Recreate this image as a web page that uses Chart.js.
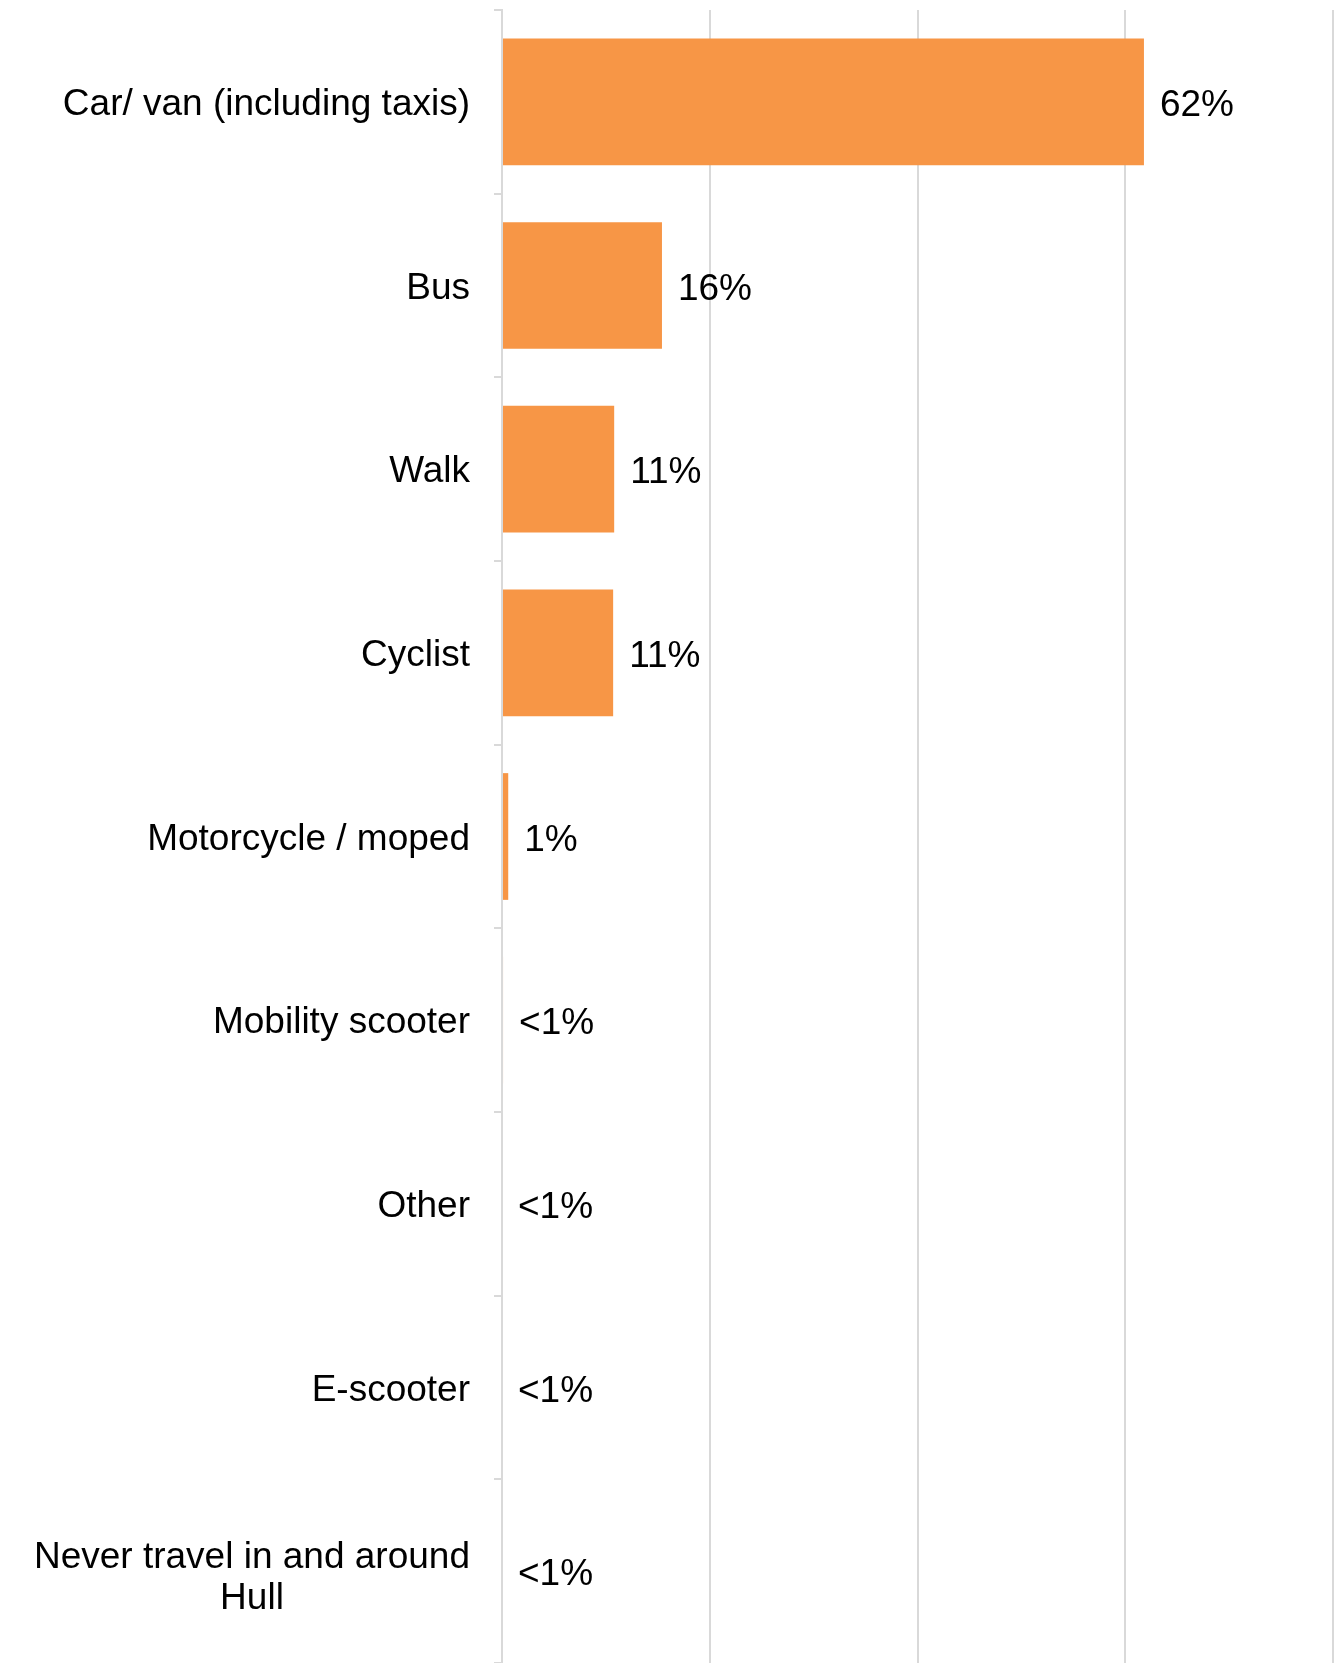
<!DOCTYPE html>
<html>
<head>
<meta charset="utf-8">
<script src="https://cdn.jsdelivr.net/npm/chart.js@4/dist/chart.umd.min.js"></script>
<style>
  html, body { margin: 0; padding: 0; background: #fff; }
  #wrap { position: relative; width: 1341px; height: 1663px; }
</style>
</head>
<body>
<div id="wrap"><canvas id="c"></canvas></div>
<script>
// categories (multi-line labels as arrays)
const modes = [
    'Car/ van (including taxis)',
    'Bus',
    'Walk',
    'Cyclist',
    'Motorcycle / moped',
    'Mobility scooter',
    'Other',
    'E-scooter',
    ['Never travel in and around', 'Hull']
];
// bar lengths (%)
const shares = [61.8, 15.4, 10.8, 10.7, 0.6, 0.1, 0, 0, 0];
// printed value labels
const shareLabels = ['62%', '16%', '11%', '11%', '1%', '<1%', '<1%', '<1%', '<1%'];
// x axis gridlines
const xTicks = [0, 20, 40, 60, 80];

const FONT = '"Liberation Sans", Arial, sans-serif';
const gridGrey = '#d9d9d9';

// draws category names left of the axis; multi-line ones centred on themselves
const categoryLabels = {
    id: 'categoryLabels',
    afterDraw(chart) {
        const ctx = chart.ctx;
        const y = chart.scales.y;
        const right = chart.chartArea.left - 32;
        ctx.save();
        ctx.font = '37px ' + FONT;
        ctx.fillStyle = '#000';
        ctx.textBaseline = 'middle';
        ctx.textAlign = 'center';
        modes.forEach((lab, i) => {
            const cy = y.getPixelForValue(i) + 3;
            const lines = Array.isArray(lab) ? lab : [lab];
            const maxW = Math.max(...lines.map(l => ctx.measureText(l).width));
            const lh = 41;
            const y0 = cy - (lines.length - 1) * lh / 2 + (lines.length > 1 ? 4 : 0);
            lines.forEach((l, k) => {
                ctx.fillText(l, right - maxW / 2, y0 + k * lh);
            });
        });
        ctx.restore();
    }
};

// value labels at the bar ends
const valueLabels = {
    id: 'valueLabels',
    afterDatasetsDraw(chart) {
        const ctx = chart.ctx;
        const meta = chart.getDatasetMeta(0);
        ctx.save();
        ctx.font = '37px ' + FONT;
        ctx.fillStyle = '#000';
        ctx.textAlign = 'left';
        ctx.textBaseline = 'middle';
        meta.data.forEach((bar, i) => {
            ctx.fillText(shareLabels[i], bar.x + 16, bar.y + 4);
        });
        ctx.restore();
    }
};

new Chart(document.getElementById('c'), {
    type: 'bar',
    data: {
        labels: modes,
        datasets: [{
            data: shares,
            backgroundColor: '#F79646',
            borderWidth: 0,
            categoryPercentage: 1,
            barPercentage: 0.69
        }]
    },
    options: {
        indexAxis: 'y',
        responsive: true,
        maintainAspectRatio: false,
        animation: false,
        devicePixelRatio: 1,
        layout: { padding: { top: 10, right: 8, bottom: 0, left: 0 } },
        plugins: {
            legend: { display: false },
            tooltip: { enabled: false }
        },
        scales: {
            x: {
                min: 0,
                max: 80,
                afterBuildTicks(scale) {
                    scale.ticks = xTicks.map(v => ({ value: v }));
                },
                afterFit(scale) { scale.height = 0; },
                ticks: { display: false },
                grid: { color: gridGrey, lineWidth: 2, drawTicks: false },
                border: { display: false }
            },
            y: {
                afterFit(scale) { scale.width = 502; },
                ticks: { display: false },
                grid: {
                    drawOnChartArea: false,
                    color: gridGrey,
                    lineWidth: 2,
                    tickLength: 8
                },
                border: { color: gridGrey, width: 2 }
            }
        }
    },
    plugins: [categoryLabels, valueLabels]
});
</script>
</body>
</html>
